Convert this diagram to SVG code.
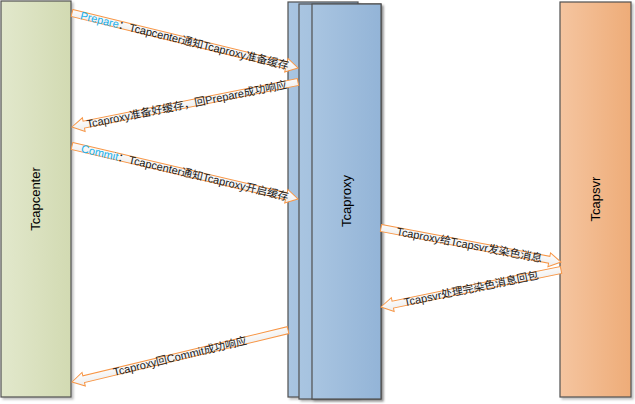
<svg xmlns="http://www.w3.org/2000/svg" width="635" height="404" viewBox="0 0 635 404">
<defs>
<linearGradient id="gGreen" x1="0" y1="0" x2="1" y2="0"><stop offset="0" stop-color="#e2e8cc"/><stop offset="1" stop-color="#d2dab2"/></linearGradient>
<linearGradient id="gBlue" x1="0" y1="0" x2="1" y2="0"><stop offset="0" stop-color="#a9c5e1"/><stop offset="1" stop-color="#93b4d7"/></linearGradient>
<linearGradient id="gOrange" x1="0" y1="0" x2="1" y2="0"><stop offset="0" stop-color="#f5c5a0"/><stop offset="1" stop-color="#eeac78"/></linearGradient>
<linearGradient id="gArrow" x1="0" y1="0" x2="0" y2="1"><stop offset="0" stop-color="#ffffff"/><stop offset="1" stop-color="#ececec"/></linearGradient>
<filter id="sh" x="-10%" y="-10%" width="130%" height="130%"><feDropShadow dx="2" dy="2" stdDeviation="1" flood-color="#000" flood-opacity="0.25"/></filter>
</defs>
<style>
.box{stroke:#505050;stroke-width:1.2;filter:url(#sh)}
.arr{fill:url(#gArrow);stroke:#f79646;stroke-width:1}
.lbl{font-family:"Liberation Sans","Noto Sans CJK SC",sans-serif;font-size:11px;fill:#1a1a1a}
.blue{fill:#1ab0ea}
.node{font-family:"Liberation Sans","Noto Sans CJK SC",sans-serif;font-size:13px;fill:#000}
</style>
<rect width="635" height="404" fill="#fff"/>
<g id="tcapcenter">
<rect class="box" x="1" y="1" width="70" height="396" fill="url(#gGreen)"/>
<text class="node" transform="translate(40,199) rotate(-90)" text-anchor="middle">Tcapcenter</text>
</g>
<g id="tcaproxy">
<rect class="box" x="288" y="2" width="70" height="395" fill="url(#gBlue)"/>
<rect class="box" x="299" y="4" width="82" height="395" fill="url(#gBlue)"/>
<rect class="box" x="312" y="4" width="69" height="395" fill="url(#gBlue)"/>
<text class="node" transform="translate(351,201) rotate(-90)" text-anchor="middle">Tcaproxy</text>
</g>
<g id="tcapsvr">
<rect class="box" x="560" y="2" width="71" height="395" fill="url(#gOrange)"/>
<text class="node" transform="translate(600,199) rotate(-90)" text-anchor="middle">Tcapsvr</text>
</g>
<g id="connectors">
<g transform="translate(72,13) rotate(13.68)">
<polygon class="arr" points="0,-3.5 220.6,-3.5 220.6,-7 232.6,0 220.6,7 220.6,3.5 0,3.5"/>
<text class="lbl" x="116" y="4" text-anchor="middle"><tspan class="blue">Prepare</tspan>：Tcapcenter通知Tcaproxy准备缓存</text>
</g>
<g transform="translate(72,127) rotate(-11.26)">
<polygon class="arr" points="0,0 12,-7 12,-3.5 230.4,-3.5 230.4,3.5 12,3.5 12,7"/>
<text class="lbl" x="117" y="4" text-anchor="middle">Tcaproxy准备好缓存，回Prepare成功响应</text>
</g>
<g transform="translate(72,146) rotate(13.2)">
<polygon class="arr" points="0,-3.5 220.1,-3.5 220.1,-7 232.1,0 220.1,7 220.1,3.5 0,3.5"/>
<text class="lbl" x="116" y="4" text-anchor="middle"><tspan class="blue">Commit</tspan>：Tcapcenter通知Tcaproxy开启缓存</text>
</g>
<g transform="translate(381,228) rotate(10.7)">
<polygon class="arr" points="0,-3.5 171.2,-3.5 171.2,-7 183.2,0 171.2,7 171.2,3.5 0,3.5"/>
<text class="lbl" x="90" y="4" text-anchor="middle">Tcaproxy给Tcapsvr发染色消息</text>
</g>
<g transform="translate(381,307) rotate(-11.6)">
<polygon class="arr" points="0,0 12,-7 12,-3.5 183.8,-3.5 183.8,3.5 12,3.5 12,7"/>
<text class="lbl" x="92" y="4" text-anchor="middle">Tcapsvr处理完染色消息回包</text>
</g>
<g transform="translate(72,382) rotate(-13.5)">
<polygon class="arr" points="0,0 12,-7 12,-3.5 222.2,-3.5 222.2,3.5 12,3.5 12,7"/>
<text class="lbl" x="111" y="4" text-anchor="middle">Tcaproxy回Commit成功响应</text>
</g>
</g>
</svg>
